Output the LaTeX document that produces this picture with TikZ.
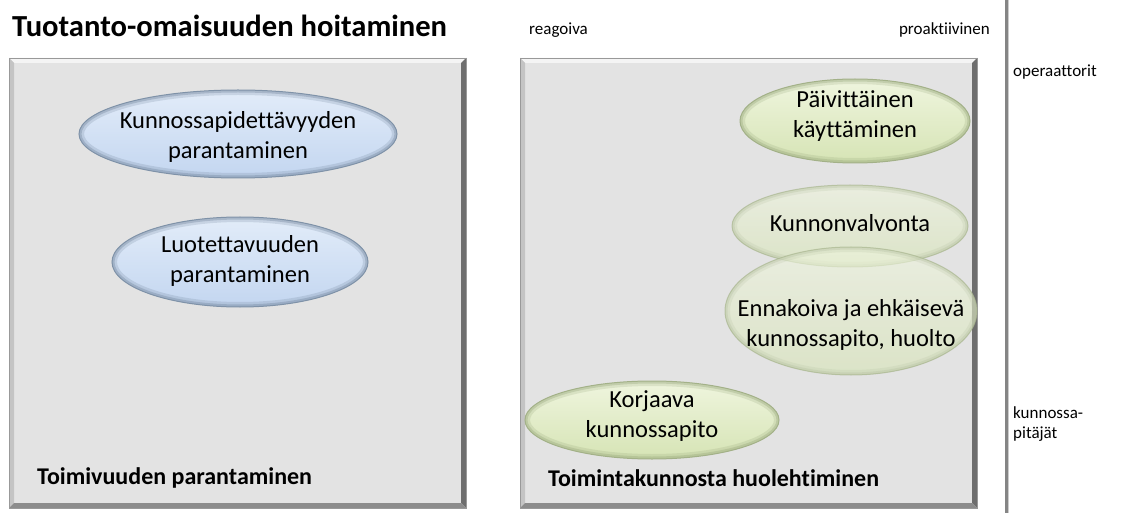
\documentclass[tikz,border=0pt]{standalone}
\usepackage{fontspec}
\setmainfont{Carlito}[Ligatures=NoCommon]
\usetikzlibrary{shapes.geometric,calc}
\definecolor{boxfill}{HTML}{E3E3E3}
\definecolor{bevTop}{HTML}{F4F4F4}
\definecolor{bevLeft}{HTML}{C4C4C4}
\definecolor{bevRight}{HTML}{6E6E6E}
\definecolor{bevBot}{HTML}{8C8C8C}
\definecolor{blueT}{HTML}{E2ECF9}
\definecolor{blueB}{HTML}{C3D6F0}
\definecolor{blueD}{HTML}{7F92A8}
\definecolor{blueRim}{HTML}{6F8299}
\definecolor{greenT}{HTML}{EFF5DE}
\definecolor{greenB}{HTML}{D6E4B5}
\definecolor{greenD}{HTML}{A3B188}
\definecolor{greenRim}{HTML}{96A67A}
\definecolor{vline}{HTML}{858585}
\newcommand{\bevbox}[4]{%
  \fill[boxfill] (#1,#2) rectangle (#3,#4);
  \fill[bevTop] (#1,#2) -- (#3,#2) -- ({#3-5},{#2+5}) -- ({#1+5},{#2+5}) -- cycle;
  \fill[bevLeft] (#1,#2) -- ({#1+5},{#2+5}) -- ({#1+5},{#4-5}) -- (#1,#4) -- cycle;
  \fill[bevRight] (#3,#2) -- (#3,#4) -- ({#3-5},{#4-5}) -- ({#3-5},{#2+5}) -- cycle;
  \fill[bevBot] (#1,#4) -- (#3,#4) -- ({#3-5},{#4-5}) -- ({#1+5},{#4-5}) -- cycle;
  \draw[gray!80, line width=0.8pt] (#1,#2) rectangle (#3,#4);
}
\tikzset{
  rim/.style={path picture={
    \draw[#1, line width=10pt, opacity=0.22]
      let \p1=(path picture bounding box.north east), \p2=(path picture bounding box.south west)
      in ($(\p1)!0.5!(\p2)$) ellipse [x radius={abs(\x1-\x2)/2}, y radius={abs(\y1-\y2)/2}];
    \draw[#1, line width=5pt, opacity=0.35]
      let \p1=(path picture bounding box.north east), \p2=(path picture bounding box.south west)
      in ($(\p1)!0.5!(\p2)$) ellipse [x radius={abs(\x1-\x2)/2}, y radius={abs(\y1-\y2)/2}];
  }},
  ell/.style={ellipse, inner sep=0pt, line width=1pt},
  blueell/.style={ell, top color=blueT, bottom color=blueB, draw=blueD, rim=blueRim},
  greenell/.style={ell, top color=greenT, bottom color=greenB, draw=greenD, rim=greenRim},
  glassell/.style={ell, top color=greenT, bottom color=greenB, draw=greenD, fill opacity=0.6, draw opacity=0.6, rim=greenRim!70},
  elltext/.style={inner sep=0pt, align=center, font=\fontsize{24.5}{30}\selectfont},
  small/.style={font=\fontsize{17}{20}\selectfont, align=left, inner sep=0pt},
  boxlabel/.style={font=\bfseries\fontsize{24}{28}\selectfont, anchor=west, inner sep=0pt},
}
\begin{document}
\begin{tikzpicture}[x=1pt,y=-1pt]
\useasboundingbox (0,0) rectangle (1122,513);
\fill[white] (0,0) rectangle (1122,513);
% title
\node[anchor=west, font=\bfseries\fontsize{30.6}{34}\selectfont, inner sep=0pt] (title) at (12,26) {Tuotanto-omaisuuden hoitaminen};
% boxes
\bevbox{9}{58}{466}{508}
\bevbox{520}{58}{977}{508}
% vertical separator
\coordinate (vtop) at (1006,0);
\coordinate (vbot) at (1006,513);
\draw[vline, line width=3pt] (vtop) -- (vbot);
\draw[gray!40, line width=1pt] ([xshift=2pt]vtop) -- ([xshift=2pt]vbot);
% top axis labels
\node[small, anchor=west] (reag) at (529,30) {reagoiva};
\node[small, anchor=east] (proak) at (990,30) {proaktiivinen};
% right labels
\node[small, anchor=west] (oper) at (1013,72) {operaattorit};
\node[small, anchor=north west] (kunn) at (1013,406) {kunnossa-\\pitäjät};
% blue ellipses
\node[blueell, minimum width=318pt, minimum height=88pt] (e1) at (238,134) {};
\node[elltext] (e1t) at (238,137) {Kunnossapidettävyyden\\parantaminen};
\node[blueell, minimum width=256pt, minimum height=90pt] (e2) at (240,262) {};
\node[elltext] (e2t) at (240,261) {Luotettavuuden\\parantaminen};
% green ellipses
\node[greenell, minimum width=230pt, minimum height=84pt] (g1) at (855,121) {};
\node[elltext] (g1t) at (855,116) {Päivittäinen\\käyttäminen};
\node[glassell, minimum width=236pt, minimum height=82pt] (g2) at (850,226) {};
\node[elltext] (g2t) at (850,223) {Kunnonvalvonta};
\node[glassell, minimum width=252pt, minimum height=128pt] (g3) at (851,311) {};
\node[elltext] (g3t) at (851,325) {Ennakoiva ja ehkäisevä\\kunnossapito, huolto};
\node[greenell, minimum width=254pt, minimum height=78pt] (g4) at (652,420) {};
\node[elltext] (g4t) at (652,416) {Korjaava\\kunnossapito};
% box labels
\node[boxlabel] (lbl1) at (37,478) {Toimivuuden parantaminen};
\node[boxlabel] (lbl2) at (548,478) {Toimintakunnosta huolehtiminen};
\end{tikzpicture}
\end{document}
